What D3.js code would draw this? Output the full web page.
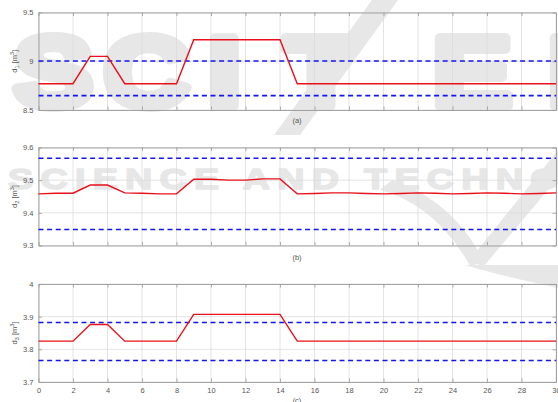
<!DOCTYPE html>
<html>
<head>
<meta charset="utf-8">
<script src="https://cdn.jsdelivr.net/npm/d3@7"></script>
<style>
  html, body { margin: 0; padding: 0; background: #fff; }
  svg { display: block; }
  text { font-family: "Liberation Sans", Arial, sans-serif; }
</style>
</head>
<body>
<svg id="chart" width="558" height="402"></svg>
<script>
// Time steps (hours)
const steps = d3.range(0, 31);
const xTicks = d3.range(0, 31, 2);

// Demand trajectories per tank
const d1 = [8.77, 8.77, 8.77, 9.05, 9.05, 8.77, 8.77, 8.77, 8.77,
            9.22, 9.22, 9.22, 9.22, 9.22, 9.22,
            8.77, 8.77, 8.77, 8.77, 8.77, 8.77, 8.77, 8.77, 8.77, 8.77,
            8.77, 8.77, 8.77, 8.77, 8.77, 8.77];
const d2 = [9.458, 9.460, 9.460, 9.485, 9.485, 9.461, 9.460, 9.458, 9.458,
            9.503, 9.503, 9.500, 9.500, 9.504, 9.504,
            9.458, 9.459, 9.461, 9.461, 9.459, 9.458, 9.459, 9.461, 9.460,
            9.458, 9.459, 9.461, 9.460, 9.458, 9.459, 9.461];
const d3v = [3.825, 3.825, 3.825, 3.876, 3.876, 3.825, 3.825, 3.825, 3.825,
             3.907, 3.907, 3.907, 3.907, 3.907, 3.907,
             3.825, 3.825, 3.825, 3.825, 3.825, 3.825, 3.825, 3.825, 3.825,
             3.825, 3.825, 3.825, 3.825, 3.825, 3.825, 3.825];

// Lower / upper limits (dashed)
const d1Bounds = [8.647, 9.003];
const d2Bounds = [9.349, 9.567];
const d3Bounds = [3.766, 3.882];

// Axis ranges and ticks
const d1Domain = [8.5, 9.5], d1Ticks = [8.5, 9, 9.5];
const d2Domain = [9.3, 9.6], d2Ticks = [9.3, 9.4, 9.5, 9.6];
const d3Domain = [3.7, 4.0], d3Ticks = [3.7, 3.8, 3.9, 4.0];

const svg = d3.select("#chart");

// Faint publisher mark in the background
const wmFill = "#e7e7e7";
const wm = svg.append("g").attr("fill", wmFill).attr("stroke", "none");
const sx = 1.2;
wm.append("text")
  .attr("transform", `scale(${sx},1)`)
  .attr("x", [14, 104, 208, 285, 433, 548].map(v => v / sx).join(" "))
  .attr("y", 106)
  .attr("font-size", 98).attr("font-weight", "bold")
  .attr("stroke", wmFill).attr("stroke-width", 10).attr("stroke-linejoin", "round")
  .text("SCITEP");
wm.append("path").attr("d", "M372,0 L398,0 L300,135 L274,135 Z");
wm.append("text")
  .attr("transform", "scale(1.3,1)")
  .attr("x", 8 / 1.3).attr("y", 189)
  .attr("font-size", 29).attr("font-weight", "bold")
  .attr("stroke", wmFill).attr("stroke-width", 1.5).attr("stroke-linejoin", "round")
  .attr("letter-spacing", 5.6)
  .text("SCIENCE AND TECHNOLOGY");
wm.append("path")
  .attr("d", "M380,190 C420,200 452,232 470,266 L484,262 C466,224 434,194 392,180 Z");
wm.append("path")
  .attr("d", "M558,150 L558,178 L484,266 L468,262 Z");
wm.append("path")
  .attr("d", "M465,265 L558,265 L558,288 C530,282 495,274 465,265 Z");

const left = 38.5, right = 556;
const x = d3.scaleLinear().domain([0, 30]).range([left, right]);

const panels = [
  { vals: d1, bounds: d1Bounds, domain: d1Domain, ticks: d1Ticks, top: 12.5, bottom: 110, sub: "1", cap: "(a)", capY: 123, xlabels: false },
  { vals: d2, bounds: d2Bounds, domain: d2Domain, ticks: d2Ticks, top: 147.5, bottom: 245.5, sub: "2", cap: "(b)", capY: 260, xlabels: false },
  { vals: d3v, bounds: d3Bounds, domain: d3Domain, ticks: d3Ticks, top: 284, bottom: 382, sub: "3", cap: "(c)", capY: 403, xlabels: true }
];

const frameCol = "#9a9a9a", gridCol = "#dcdcdc", textCol = "#555";

panels.forEach(p => {
  const y = d3.scaleLinear().domain(p.domain).range([p.bottom, p.top]);
  const g = svg.append("g");

  // grid
  g.append("g").selectAll("line").data(xTicks).join("line")
    .attr("x1", d => x(d)).attr("x2", d => x(d))
    .attr("y1", p.top).attr("y2", p.bottom)
    .attr("stroke", gridCol).attr("stroke-width", 0.8);
  g.append("g").selectAll("line").data(p.ticks).join("line")
    .attr("x1", left).attr("x2", right)
    .attr("y1", d => y(d)).attr("y2", d => y(d))
    .attr("stroke", gridCol).attr("stroke-width", 0.8);

  // axes with inward ticks
  const ax = g.append("g").attr("transform", `translate(0,${p.bottom})`)
    .call(d3.axisBottom(x).tickValues(xTicks).tickSizeInner(-3.5).tickSizeOuter(0)
      .tickFormat(p.xlabels ? d3.format("d") : ""));
  const axTop = g.append("g").attr("transform", `translate(0,${p.top})`)
    .call(d3.axisTop(x).tickValues(xTicks).tickSizeInner(-3.5).tickSizeOuter(0).tickFormat(""));
  const ay = g.append("g").attr("transform", `translate(${left},0)`)
    .call(d3.axisLeft(y).tickValues(p.ticks).tickSizeInner(-3.5).tickSizeOuter(0)
      .tickFormat(d => d3.format("")(+d.toFixed(2))));
  const ayR = g.append("g").attr("transform", `translate(${right},0)`)
    .call(d3.axisRight(y).tickValues(p.ticks).tickSizeInner(-3.5).tickSizeOuter(0).tickFormat(""));
  [ax, axTop, ay, ayR].forEach(a => {
    a.selectAll("path.domain").attr("stroke", frameCol).attr("stroke-width", 0.9);
    a.selectAll(".tick line").attr("stroke", frameCol).attr("stroke-width", 0.8);
    a.selectAll(".tick text").attr("fill", textCol).attr("font-size", 7.5)
      .attr("font-family", "'Liberation Sans', Arial, sans-serif");
  });
  ay.selectAll(".tick text").attr("x", -5);
  ax.selectAll(".tick text").attr("y", 6);

  // limits
  p.bounds.forEach(b => {
    g.append("line")
      .attr("x1", x(0)).attr("x2", x(30))
      .attr("y1", y(b)).attr("y2", y(b))
      .attr("stroke", "#1414f0").attr("stroke-width", 1.6)
      .attr("stroke-dasharray", "5,3.6");
  });

  // trajectory
  g.append("path")
    .datum(steps.map((t, i) => [t, p.vals[i]]))
    .attr("fill", "none").attr("stroke", "#e8101a").attr("stroke-width", 1.4)
    .attr("d", d3.line().x(d => x(d[0])).y(d => y(d[1])));

  // y label
  const lab = g.append("text")
    .attr("transform", `translate(17,${(p.top + p.bottom) / 2}) rotate(-90)`)
    .attr("text-anchor", "middle").attr("fill", textCol).attr("font-size", 7.5);
  lab.append("tspan").text("d");
  lab.append("tspan").attr("font-size", 5.5).attr("dy", 2).text(p.sub);
  lab.append("tspan").attr("dy", -2).text(" [m");
  lab.append("tspan").attr("font-size", 5.5).attr("dy", -3).text("3");
  lab.append("tspan").attr("dy", 3).text("]");

  // caption
  svg.append("text").attr("x", 297).attr("y", p.capY)
    .attr("text-anchor", "middle").attr("fill", textCol).attr("font-size", 7.5)
    .text(p.cap);
});
</script>
</body>
</html>
